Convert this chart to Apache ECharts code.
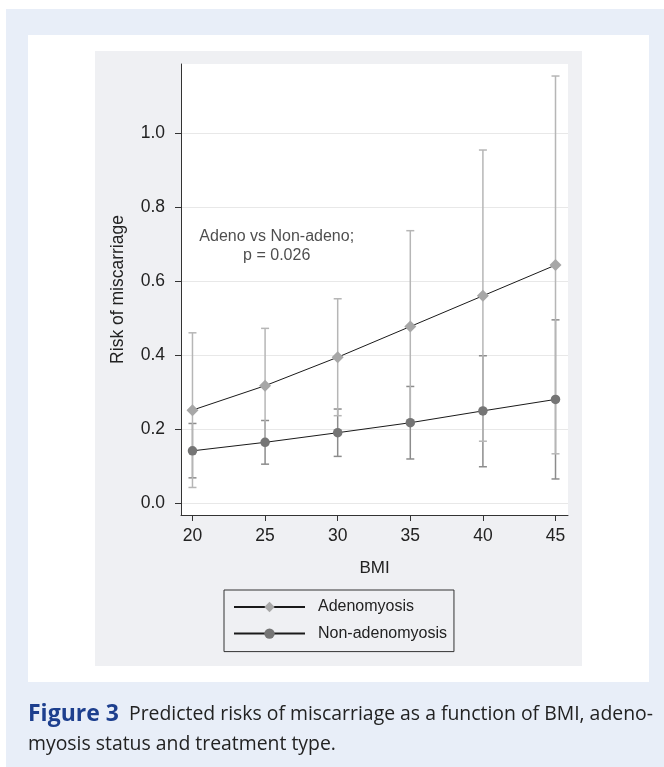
<!DOCTYPE html>
<html><head><meta charset="utf-8">
<script src="https://cdn.jsdelivr.net/npm/echarts@6/dist/echarts.min.js"></script>
<style>html,body{margin:0;padding:0;background:#fff}#c{width:664px;height:767px}</style>
</head><body><div id="c"></div>
<script>
const bmi = [20, 25, 30, 35, 40, 45];
const adenoRisk  = [0.251, 0.317, 0.394, 0.477, 0.560, 0.643];
const adenoLow   = [0.042, 0.162, 0.236, 0.218, 0.167, 0.133];
const adenoHigh  = [0.460, 0.472, 0.552, 0.736, 0.954, 1.154];
const nonRisk    = [0.141, 0.164, 0.190, 0.217, 0.249, 0.280];
const nonLow     = [0.068, 0.105, 0.126, 0.119, 0.098, 0.065];
const nonHigh    = [0.215, 0.223, 0.254, 0.315, 0.398, 0.495];
const yTicks = [0, 0.2, 0.4, 0.6, 0.8, 1.0];
const xTicks = [20, 25, 30, 35, 40, 45];
const annotation = [25.8, 0.695, 'Adeno vs Non-adeno;\np = 0.026'];
const seriesNames = ['Adenomyosis', 'Non-adenomyosis'];

const FONT = '"Liberation Sans", Arial, Helvetica, sans-serif';

function errRender(color) {
  return function (params, api) {
    const x = api.value(0), lo = api.value(1), hi = api.value(2);
    const pLo = api.coord([x, lo]), pHi = api.coord([x, hi]);
    const w = 4;
    const st = {stroke: color, lineWidth: 1.5};
    return {type: 'group', children: [
      {type: 'line', shape: {x1: pLo[0], y1: pLo[1], x2: pHi[0], y2: pHi[1]}, style: st},
      {type: 'line', shape: {x1: pLo[0] - w, y1: pLo[1], x2: pLo[0] + w, y2: pLo[1]}, style: st},
      {type: 'line', shape: {x1: pHi[0] - w, y1: pHi[1], x2: pHi[0] + w, y2: pHi[1]}, style: st}
    ]};
  };
}

const chart = echarts.init(document.getElementById('c'), null, {renderer: 'canvas'});
chart.setOption({
  animation: false,
  backgroundColor: '#ffffff',
  textStyle: {fontFamily: FONT},
  graphic: [
    {type: 'rect', z: -10, silent: true, shape: {x: 6, y: 9, width: 658, height: 758}, style: {fill: '#e8eef8'}},
    {type: 'rect', z: -9, silent: true, shape: {x: 28, y: 35, width: 621, height: 647}, style: {fill: '#ffffff'}},
    {type: 'rect', z: -8, silent: true, shape: {x: 95, y: 51, width: 487, height: 615}, style: {fill: '#eff0f3'}},
    {type: 'text', z: 10, left: 28, top: 703, style: {
      text: '{b|Figure 3}{n|  Predicted risks of miscarriage as a function of BMI, adeno-}',
      rich: {
        b: {fontFamily: '"Open Sans", sans-serif', fontWeight: 'bold', fontSize: 23, fill: '#1d3f8e'},
        n: {fontFamily: '"Open Sans", sans-serif', fontSize: 19.4, fill: '#222222'}
      }}},
    {type: 'text', z: 10, left: 28, top: 735, style: {
      text: 'myosis status and treatment type.',
      fontFamily: '"Open Sans", sans-serif', fontSize: 19.4, fill: '#222222'}}
  ],
  grid: {left: 181, top: 64, right: 96, bottom: 252, show: true, backgroundColor: '#ffffff', borderWidth: 0, containLabel: false, outerBoundsMode: 'none'},
  legend: {
    orient: 'vertical', left: 224, top: 590,
    padding: [8, 7, 9, 9], itemGap: 8.6,
    itemWidth: 71, itemHeight: 13,
    borderColor: '#333333', borderWidth: 1, backgroundColor: 'transparent',
    data: seriesNames,
    textStyle: {fontFamily: FONT, fontSize: 16, color: '#222222', lineHeight: 18, padding: [0, 0, 0, 8]}
  },
  xAxis: {
    type: 'value', min: 19.21, max: 45.86,
    name: 'BMI', nameLocation: 'middle', nameGap: 45,
    nameTextStyle: {fontFamily: FONT, fontSize: 17, color: '#222222'},
    axisLine: {show: true, onZero: false, lineStyle: {color: '#333333', width: 1}},
    axisTick: {show: true, length: 6, inside: false, customValues: xTicks, lineStyle: {color: '#333333'}},
    axisLabel: {customValues: xTicks, margin: 12, fontFamily: FONT, fontSize: 17.5, color: '#222222'},
    splitLine: {show: false}
  },
  yAxis: {
    type: 'value', min: -0.0324, max: 1.1865,
    name: 'Risk of miscarriage', nameLocation: 'middle', nameGap: 54, nameRotate: 90,
    nameTextStyle: {fontFamily: FONT, fontSize: 17.5, color: '#222222'},
    axisLine: {show: true, onZero: false, lineStyle: {color: '#333333', width: 1}},
    axisTick: {show: true, length: 6, inside: false, customValues: yTicks, lineStyle: {color: '#333333'}},
    axisLabel: {customValues: yTicks, margin: 16, fontFamily: FONT, fontSize: 17.5, color: '#222222',
      formatter: v => v.toFixed(1)},
    splitLine: {show: true, lineStyle: {color: '#e8e8e8', width: 1}}
  },
  series: [
    {type: 'custom', name: 'nonErr', z: 2, renderItem: errRender('#8c8c8c'), clip: false,
      data: bmi.map((b, i) => [b, nonLow[i], nonHigh[i]]), encode: {x: 0, y: [1, 2]}},
    {type: 'custom', name: 'adenoErr', z: 3, renderItem: errRender('#b6b6b6'), clip: false,
      data: bmi.map((b, i) => [b, adenoLow[i], adenoHigh[i]]), encode: {x: 0, y: [1, 2]}},
    {type: 'line', name: seriesNames[0], z: 5, data: bmi.map((b, i) => [b, adenoRisk[i]]),
      symbol: 'diamond', symbolSize: 12, showAllSymbol: true,
      lineStyle: {color: '#1a1a1a', width: 1}, itemStyle: {color: '#a7a7a7', borderWidth: 0}},
    {type: 'line', name: seriesNames[1], z: 4, data: bmi.map((b, i) => [b, nonRisk[i]]),
      symbol: 'circle', symbolSize: 9.5, showAllSymbol: true,
      lineStyle: {color: '#1a1a1a', width: 1}, itemStyle: {color: '#757575', borderWidth: 0}},
    {type: 'scatter', name: 'note', z: 6, symbolSize: 0, silent: true,
      data: [[annotation[0], annotation[1]]],
      label: {show: true, position: 'inside', formatter: annotation[2], fontFamily: FONT, fontSize: 16,
        color: '#222222', lineHeight: 19.5, align: 'center', verticalAlign: 'middle'}}
  ]
});
</script></body></html>
